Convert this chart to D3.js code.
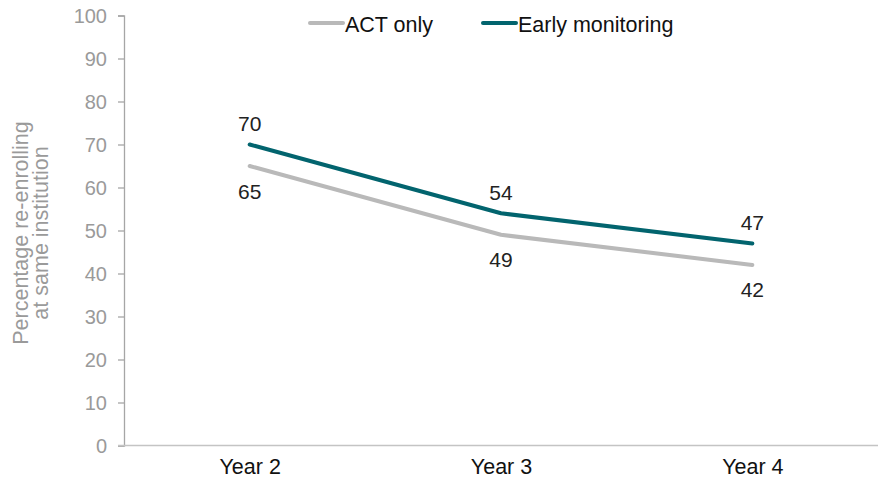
<!DOCTYPE html>
<html><head><meta charset="utf-8">
<script src="https://cdn.jsdelivr.net/npm/d3@7"></script>
<style>
body{margin:0;background:#fff;}
text{font-family:"Liberation Sans",Arial,sans-serif;}
</style></head>
<body><svg id="c" width="881" height="483"></svg>
<script>
const categories = ["Year 2","Year 3","Year 4"];
const actOnly = [65,49,42];
const earlyMonitoring = [70,54,47];
const yTicks = [0,10,20,30,40,50,60,70,80,90,100];
const seriesNames = ["ACT only","Early monitoring"];
const colors = ["#b9b9b9","#02646e"];

const svg = d3.select("#c");
const m = {l:124, r:3, t:15.5, b:37.5};
const W = 881, H = 483;
const x = d3.scalePoint().domain(categories).range([m.l, W-m.r]).padding(0.5);
const y = d3.scaleLinear().domain([0,100]).range([H-m.b, m.t]);

// y axis
const ya = svg.append("g").attr("transform",`translate(${m.l},0)`)
  .call(d3.axisLeft(y).tickValues(yTicks).tickSize(6).tickPadding(11));
ya.select(".domain").attr("stroke","#a6a6a6").attr("stroke-width",1.3);
ya.selectAll(".tick line").attr("stroke","#a6a6a6").attr("stroke-width",1.3);
ya.selectAll(".tick text").attr("fill","#9a9a9a").attr("font-size",20).attr("dy","0.36em")
  .attr("font-family","Liberation Sans, Arial, sans-serif");

// x axis
const xa = svg.append("g").attr("transform",`translate(0,${y(0)})`)
  .call(d3.axisBottom(x).tickSize(0).tickPadding(13));
xa.select(".domain").attr("d",`M${m.l-6},0H${W-m.r}`).attr("stroke","#c4c4c4").attr("stroke-width",1.6);
xa.selectAll(".tick text").attr("fill","#111").attr("font-size",21.5)
  .attr("font-family","Liberation Sans, Arial, sans-serif");

// y title
const yt = svg.append("text").attr("transform","translate(32,233) rotate(-90)")
  .attr("text-anchor","middle").attr("fill","#9a9a9a").attr("font-size",21.5);
yt.append("tspan").attr("x",0).attr("dy","-0.2em").text("Percentage re-enrolling");
yt.append("tspan").attr("x",0).attr("dy","0.95em").text("at same institution");

const line = d3.line().x((d,i)=>x(categories[i])).y(d=>y(d));
const series = [actOnly, earlyMonitoring];
series.forEach((s,k)=>{
  svg.append("path").attr("d",line(s)).attr("fill","none")
    .attr("stroke",colors[k]).attr("stroke-width",4).attr("stroke-linecap","round").attr("stroke-linejoin","round");
});

// labels
actOnly.forEach((v,i)=>{
  svg.append("text").attr("x",x(categories[i])).attr("y",y(v)+25).attr("dy","0.36em")
    .attr("text-anchor","middle").attr("fill","#222").attr("font-size",21).text(v);
});
earlyMonitoring.forEach((v,i)=>{
  svg.append("text").attr("x",x(categories[i])).attr("y",y(v)-21).attr("dy","0.36em")
    .attr("text-anchor","middle").attr("fill","#222").attr("font-size",21).text(v);
});

// legend
const legX = [310, 483];
seriesNames.forEach((n,k)=>{
  svg.append("line").attr("x1",legX[k]).attr("x2",legX[k]+33).attr("y1",23).attr("y2",23)
    .attr("stroke",colors[k]).attr("stroke-width",4).attr("stroke-linecap","round");
  svg.append("text").attr("x",legX[k]+35).attr("y",26).attr("dy","0.3em")
    .attr("fill","#111").attr("font-size",21.5).text(n);
});
</script></body></html>
